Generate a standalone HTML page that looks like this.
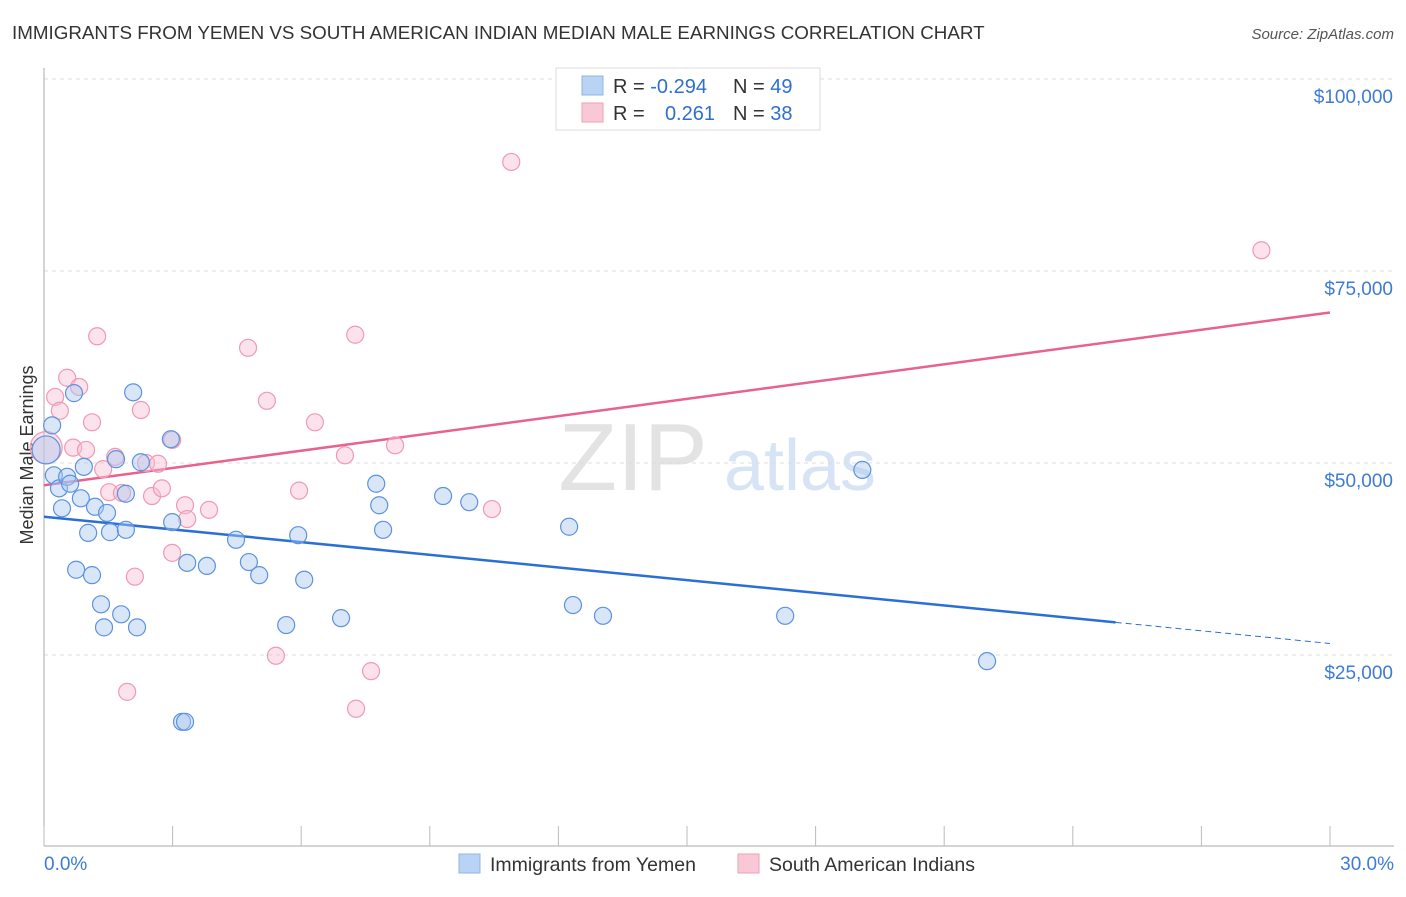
<!DOCTYPE html>
<html><head><meta charset="utf-8">
<style>
body{margin:0;background:#fff;font-family:"Liberation Sans",sans-serif;}
svg text{font-family:"Liberation Sans",sans-serif;}
</style></head>
<body>
<svg id="chart" width="1406" height="892" viewBox="0 0 1406 892" xmlns="http://www.w3.org/2000/svg">
<text x="12" y="39" font-size="18.8" fill="#333">IMMIGRANTS FROM YEMEN VS SOUTH AMERICAN INDIAN MEDIAN MALE EARNINGS CORRELATION CHART</text>
<text x="1394" y="39" font-size="15" fill="#555" font-style="italic" text-anchor="end">Source: ZipAtlas.com</text>
<text x="33" y="455" font-size="18" fill="#333" text-anchor="middle" transform="rotate(-90 33 455)">Median Male Earnings</text>
<g>
<text x="633" y="490" font-size="96" fill="#e3e3e3" font-family="Liberation Serif" text-anchor="middle">ZIP</text>
<text x="800" y="490" font-size="72" fill="#d6e4f5" text-anchor="middle">atlas</text>
</g>
<g id="grid"></g>
<g id="axes"></g>
<g id="lines"></g>
<g id="points"></g>
<g>
<rect x="556" y="68" width="264" height="62" fill="#fff" stroke="#ddd"/>
<rect x="582" y="76" width="21" height="19" fill="#b9d3f4" stroke="#8fb4e8"/>
<rect x="582" y="103" width="21" height="19" fill="#f9c8d6" stroke="#ef9fb6"/>
<text x="613" y="93" font-size="20" fill="#333">R = <tspan fill="#2f6fd0">-0.294</tspan></text>
<text x="733" y="93" font-size="20" fill="#333">N = <tspan fill="#2f6fd0">49</tspan></text>
<text x="613" y="120" font-size="20" fill="#333">R = </text>
<text x="715" y="120" font-size="20" fill="#2f6fd0" text-anchor="end">0.261</text>
<text x="733" y="120" font-size="20" fill="#333">N = <tspan fill="#2f6fd0">38</tspan></text>
</g>
<g>
<rect x="459" y="854" width="21" height="19" fill="#b9d3f4" stroke="#8fb4e8"/>
<text x="490" y="871" font-size="19.5" fill="#333">Immigrants from Yemen</text>
<rect x="738" y="854" width="21" height="19" fill="#f9c8d6" stroke="#ef9fb6"/>
<text x="769" y="871" font-size="19.5" fill="#333">South American Indians</text>
</g>
</svg>
<script>
const yTicks=[25000,50000,75000,100000];
const yTickLabels=["$25,000","$50,000","$75,000","$100,000"];
const xTicks=[0,3,6,9,12,15,18,21,24,27,30];
const xEndLabels=["0.0%","30.0%"];
const blueX=[0.19,0.23,0.35,0.42,0.54,0.61,0.70,0.75,0.86,0.93,1.03,1.12,1.19,1.33,1.40,1.47,1.54,1.68,1.80,1.91,1.91,2.08,2.17,2.26,2.96,2.99,3.22,3.29,3.34,3.80,4.48,4.78,5.02,5.65,5.93,6.07,6.93,7.75,7.82,7.91,9.31,9.92,12.25,12.34,13.04,17.29,19.09,22.0,0.05];
const blueY=[54.9,48.4,46.7,44.1,48.2,47.3,59.1,36.1,45.4,49.5,40.9,35.4,44.3,31.6,28.6,43.5,41.0,50.5,30.3,46.0,41.3,59.2,28.6,50.1,53.1,42.3,16.3,16.3,37.0,36.6,40.0,37.1,35.4,28.9,40.6,34.8,29.8,47.3,44.5,41.3,45.7,44.9,41.7,31.5,30.1,30.1,49.1,24.2,51.7];
const pinkX=[0.05,1.24,0.54,0.82,0.26,0.37,1.12,0.68,0.98,1.66,1.38,1.52,1.82,2.52,2.75,3.29,3.34,3.85,2.26,4.76,5.20,6.32,7.26,7.02,8.19,5.95,2.38,2.66,2.99,2.12,1.94,5.41,7.63,7.28,2.99,10.9,28.4,10.45];
const pinkY=[52.0,66.5,61.1,59.9,58.6,56.8,55.3,52.0,51.7,50.8,49.2,46.2,46.1,45.7,46.7,44.5,42.7,43.9,56.9,65.0,58.1,55.3,66.7,51.0,52.3,46.4,50.0,49.9,38.3,35.2,20.2,24.9,22.9,18.0,53.0,89.2,77.7,44.0];
const blueTrend=[43.0,26.5];
const pinkTrend=[47.1,69.6];
const blueSolidEnd=25;

const NS="http://www.w3.org/2000/svg";
const X0=44,X1=1330;
function xs(p){return X0+(p/30)*(X1-X0);}
function ys(v){return 655-(v-25000)*192/25000;}
function mk(tag,attrs,parent){const e=document.createElementNS(NS,tag);for(const k in attrs)e.setAttribute(k,attrs[k]);document.getElementById(parent).appendChild(e);return e;}

yTicks.forEach((t,i)=>{
  const g=mk('line',{x1:X0,x2:1394,y1:ys(t),y2:ys(t),stroke:'#ddd','stroke-dasharray':'4,4'},'grid');
  
  
  const l=mk('text',{x:1393,y:ys(t)+24,'font-size':19,fill:'#3d7bd6','text-anchor':'end'},'axes');
  l.textContent=yTickLabels[i];
  
  
});
const ax=mk('line',{x1:X0,x2:X0,y1:68,y2:846,stroke:'#aaa'},'axes');


const bx=mk('line',{x1:X0,x2:1394,y1:846,y2:846,stroke:'#aaa'},'axes');


xTicks.forEach(t=>{
  const k=mk('line',{x1:xs(t),x2:xs(t),y1:826,y2:846,stroke:'#bbb'},'axes');
  
  
});
const xl0=mk('text',{x:44,y:870,'font-size':19,fill:'#3d7bd6'},'axes');
xl0.textContent=xEndLabels[0];


const xl1=mk('text',{x:1394,y:870,'font-size':19,fill:'#3d7bd6','text-anchor':'end'},'axes');
xl1.textContent=xEndLabels[1];



function yAt(tr,p){return tr[0]+(tr[1]-tr[0])*p/30;}
const bl=mk('line',{x1:xs(0),y1:ys(yAt(blueTrend,0)*1000),x2:xs(blueSolidEnd),y2:ys(yAt(blueTrend,blueSolidEnd)*1000),stroke:'#2a6fd6','stroke-width':2.5},'lines');


const bd=mk('line',{x1:xs(blueSolidEnd),y1:ys(yAt(blueTrend,blueSolidEnd)*1000),x2:xs(30),y2:ys(yAt(blueTrend,30)*1000),stroke:'#2a6fd6','stroke-width':1,'stroke-dasharray':'6,4'},'lines');


const pl=mk('line',{x1:xs(0),y1:ys(yAt(pinkTrend,0)*1000),x2:xs(30),y2:ys(yAt(pinkTrend,30)*1000),stroke:'#e8628c','stroke-width':2.5},'lines');



pinkX.forEach((x,i)=>{
  const c=mk('circle',{cx:xs(x),cy:ys(pinkY[i]*1000),r:i===0?16:8.5,fill:'rgba(249,190,208,0.45)',stroke:'#ef9ab4','stroke-width':1.2},'points');
  
  
});
blueX.forEach((x,i)=>{
  const c=mk('circle',{cx:xs(x),cy:ys(blueY[i]*1000),r:i===48?14:8.5,fill:'rgba(170,200,240,0.45)',stroke:'#5b93e0','stroke-width':1.2},'points');
  
  
});
</script>
</body></html>
